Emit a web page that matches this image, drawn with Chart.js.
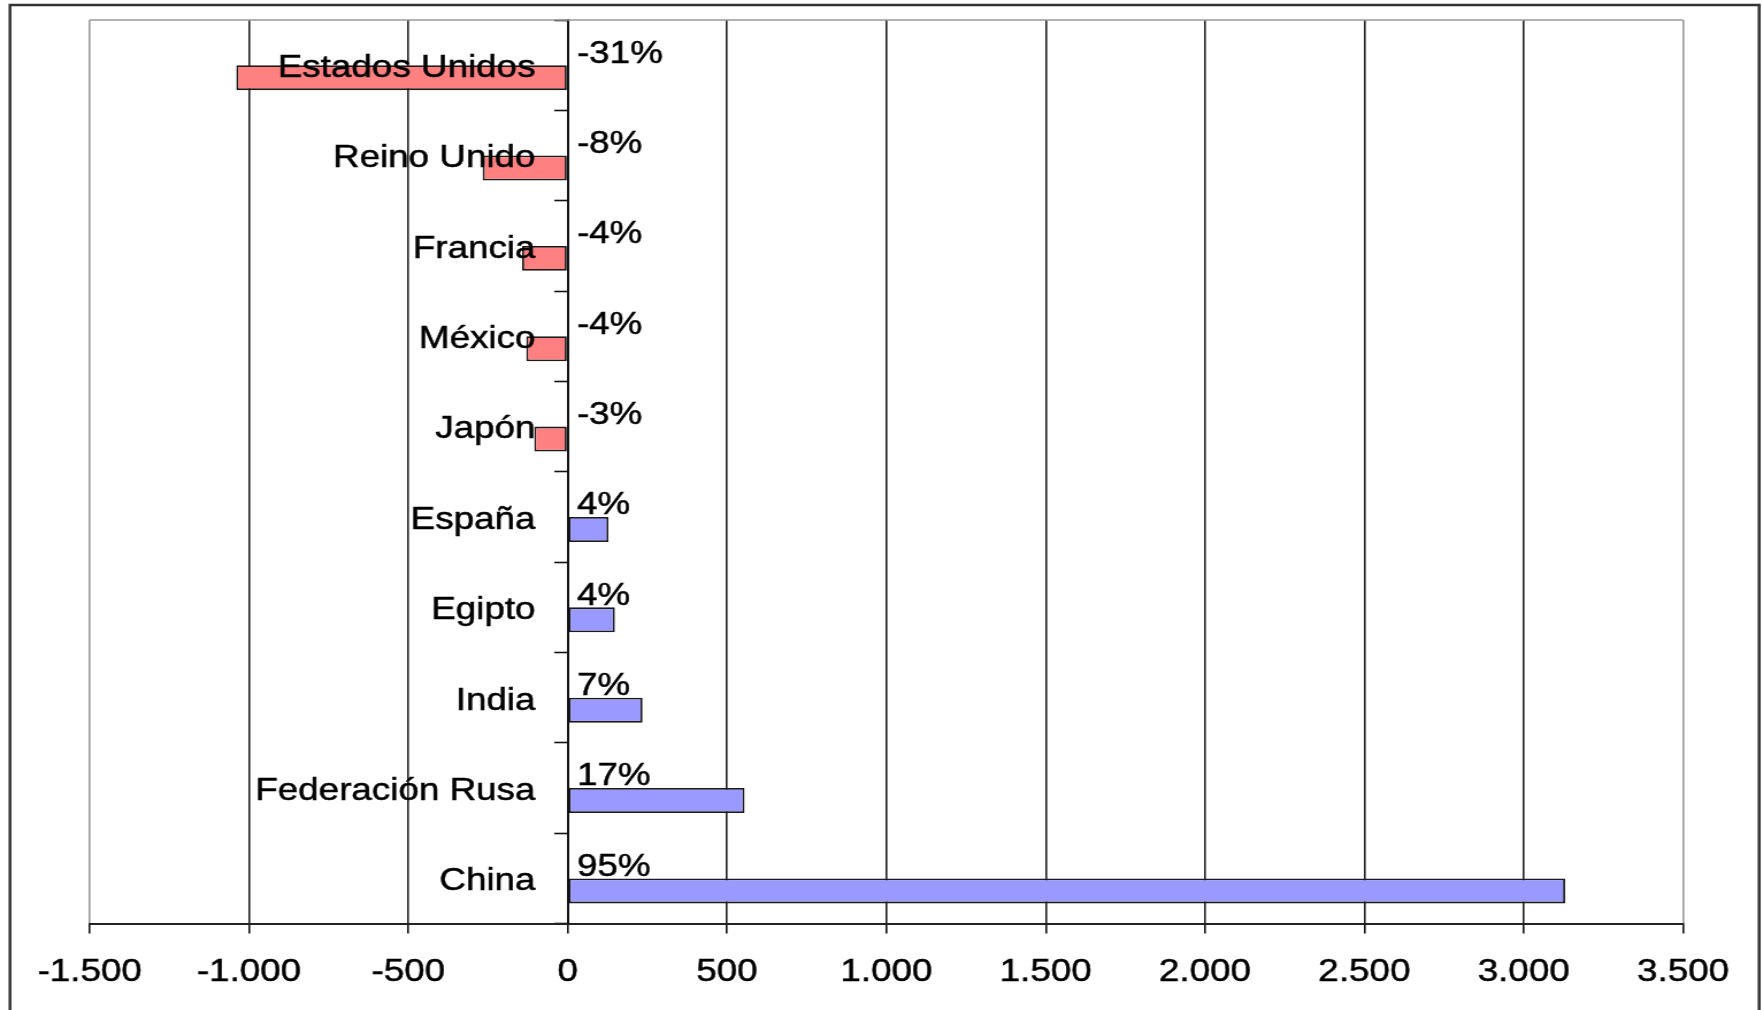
<!DOCTYPE html>
<html><head><meta charset="utf-8">
<script src="https://cdn.jsdelivr.net/npm/chart.js@4.4.1/dist/chart.umd.min.js"></script>
<style>
html,body{margin:0;padding:0;background:#fff;overflow:hidden;}
#wrap{position:absolute;left:0;top:0;width:1532px;height:1010px;transform:scaleX(1.15);transform-origin:0 0;}
canvas{display:block}
</style></head><body>
<div id="wrap"><canvas id="c" width="1532" height="1010"></canvas></div>
<script>
const categories = ['Estados Unidos','Reino Unido','Francia','México','Japón','España','Egipto','India','Federación Rusa','China'];
const values = [-1040,-267,-143,-130,-105,128,148,235,555,3130];
const shareLabels = ['-31%','-8%','-4%','-4%','-3%','4%','4%','7%','17%','95%'];
const xTickValues = [-1500,-1000,-500,0,500,1000,1500,2000,2500,3000,3500];
const xTickLabels = ['-1.500','-1.000','-500','0','500','1.000','1.500','2.000','2.500','3.000','3.500'];
const spacer = categories.map(() => null);

const FONT = '"Liberation Sans", Arial, sans-serif';

const decor = {
  id: 'decor',
  beforeDraw(chart) {
    const ctx = chart.ctx;
    ctx.save();
    ctx.fillStyle = '#fff';
    ctx.fillRect(0, 0, chart.width, chart.height);
    ctx.strokeStyle = '#333';
    ctx.lineWidth = 2.5;
    ctx.strokeRect(8.7, 5, 1521, 1200);
    ctx.restore();
  },
  beforeDatasetsDraw(chart) {
    const {ctx, chartArea: a} = chart;
    ctx.save();
    ctx.strokeStyle = '#999';
    ctx.lineWidth = 1.5;
    ctx.beginPath();
    ctx.moveTo(a.left, a.top);
    ctx.lineTo(a.right, a.top);
    ctx.stroke();
    ctx.restore();
  },
  afterDatasetsDraw(chart) {
    const {ctx, scales: {x, y}} = chart;
    const zx = x.getPixelForValue(0);
    ctx.save();
    ctx.font = '32px ' + FONT;
    ctx.fillStyle = '#000';
    ctx.strokeStyle = '#000';
    ctx.lineWidth = 0.5;
    ctx.textBaseline = 'middle';
    categories.forEach((c, i) => {
      const cy = y.getPixelForValue(i);
      ctx.textAlign = 'right';
      ctx.fillText(c, zx - 28, cy + 3);
      ctx.strokeText(c, zx - 28, cy + 3);
      ctx.textAlign = 'left';
      ctx.fillText(shareLabels[i], zx + 8, cy - 11.5);
      ctx.strokeText(shareLabels[i], zx + 8, cy - 11.5);
    });
    ctx.restore();
  }
};

new Chart(document.getElementById('c'), {
  type: 'bar',
  data: {
    labels: categories,
    datasets: [
      { data: spacer, backgroundColor: 'rgba(0,0,0,0)', borderWidth: 0 },
      {
        data: values,
        backgroundColor: ctx => (ctx.raw < 0 ? '#FF8080' : '#9999FF'),
        borderColor: '#1a1a1a',
        borderWidth: 1.8,
        borderSkipped: false
      }
    ]
  },
  options: {
    indexAxis: 'y',
    responsive: false,
    animation: false,
    devicePixelRatio: 1,
    categoryPercentage: 0.5525,
    barPercentage: 1,
    layout: { padding: { left: 78, right: 68.5, top: 20, bottom: 0 } },
    plugins: { legend: { display: false }, tooltip: { enabled: false } },
    scales: {
      x: {
        type: 'linear',
        position: 'bottom',
        min: -1500,
        max: 3500,
        afterBuildTicks: s => { s.ticks = xTickValues.map(v => ({ value: v })); },
        ticks: {
          autoSkip: false,
          maxRotation: 0,
          padding: 19,
          color: '#000',
          textStrokeColor: '#000',
          textStrokeWidth: 0.5,
          font: { family: FONT, size: 32 },
          callback: v => { const i = xTickValues.indexOf(v); return i < 0 ? '' : xTickLabels[i]; }
        },
        grid: {
          color: ctx => (ctx.tick && (ctx.tick.value === -1500 || ctx.tick.value === 3500) ? '#999' : '#222'),
          lineWidth: 1.6,
          drawTicks: true,
          tickLength: 10,
          tickColor: '#111',
          tickWidth: 1.6
        },
        border: { color: '#222', width: 2 }
      },
      y: {
        type: 'category',
        position: { x: 0 },
        offset: true,
        ticks: { display: false },
        grid: {
          offset: true,
          drawOnChartArea: false,
          drawTicks: true,
          tickLength: 11,
          tickColor: '#111',
          tickWidth: 1.6
        },
        border: { color: '#111', width: 2 }
      }
    }
  },
  plugins: [decor]
});
</script>
</body></html>
